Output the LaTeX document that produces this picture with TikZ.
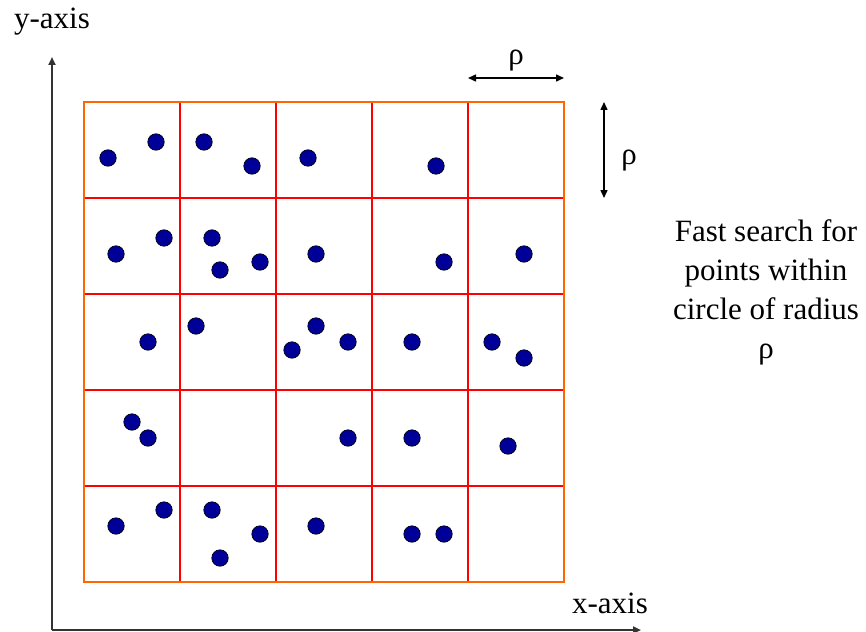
\documentclass[tikz,border=0pt]{standalone}
\usepackage{fontspec}
\setmainfont{Liberation Serif}
\usepackage{tikz}
\usetikzlibrary{arrows.meta, positioning}
\usepackage{xcolor}
\definecolor{box}{HTML}{FF6600}
\definecolor{cell}{HTML}{FF0000}
\definecolor{pts}{HTML}{000099}
\definecolor{ax}{HTML}{333333}

\begin{document}
\begin{tikzpicture}[x=1pt, y=-1pt,
      pt/.style={circle, draw=black, fill=pts, line width=0.6pt, minimum size=16.5pt, inner sep=0pt},
      axis/.style={ax, line width=2pt, -{Triangle[length=8pt, width=7pt]}},
      rho/.style={black, line width=1.5pt, {Triangle[length=8pt, width=7pt]}-{Triangle[length=8pt, width=7pt]}},
      lbl/.style={font=\fontsize{31}{39}\selectfont, inner sep=0pt}]
      \useasboundingbox (0,0) rectangle (866,631);
      % axes
      \coordinate (o) at (52,630);
      \coordinate (ytip) at (52,57);
      \coordinate (xtip) at (641,630);
      \draw[axis] (o) -- (ytip);
      \draw[axis] (o) -- (xtip);
      \node[lbl] (ylab) at (52,22) {y-axis};
      \node[lbl] (xlab) at (610,603) {x-axis};
      % grid of cells
      \foreach \i in {1,...,4} {
        \draw[cell, line width=2.2pt] (84+96*\i,102) -- (84+96*\i,582);
        \draw[cell, line width=2.2pt] (84,102+96*\i) -- (564,102+96*\i);
      }
      \draw[box, line width=2.2pt] (84,102) rectangle (564,582);
      % cell size
      \coordinate (h1) at (468,78);
      \coordinate (h2) at (564,78);
      \coordinate (v1) at (604,102);
      \coordinate (v2) at (604,198);
      \draw[rho] (h1) -- (h2);
      \draw[rho] (v1) -- (v2);
      \node[lbl] (hrho) at (516,61) {ρ};
      \node[lbl] (vrho) at (629,161) {ρ};
      \node[lbl, align=center] (note) at (766,292) {Fast search for\\points within\\circle of radius\\ρ};
      % points
      \foreach \x/\y [count=\k] in {108/158,156/142,204/142,252/166,308/158,436/166,
          116/254,164/238,212/238,220/270,260/262,316/254,444/262,524/254,
          148/342,196/326,292/350,316/326,348/342,412/342,492/342,524/358,
          132/422,148/438,348/438,412/438,508/446,
          116/526,164/510,212/510,260/534,220/558,316/526,412/534,444/534}
        \node[pt] (p\k) at (\x,\y) {};
    \end{tikzpicture}
\end{document}
